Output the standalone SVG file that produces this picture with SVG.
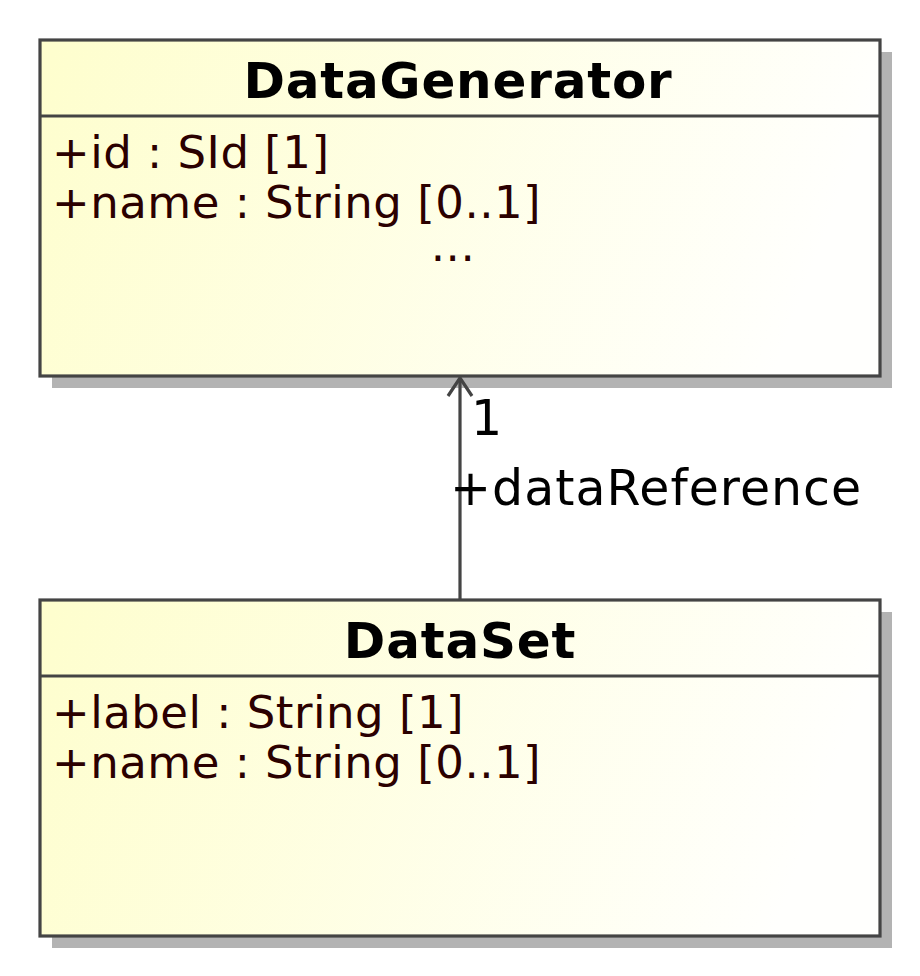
<svg xmlns="http://www.w3.org/2000/svg" width="920" height="976" viewBox="0 0 920 976">
<defs>
<linearGradient id="fill" x1="0" y1="0" x2="1" y2="0.15">
<stop offset="0" stop-color="#fefecd"/>
<stop offset="1" stop-color="#fffffd"/>
</linearGradient>
<style>
.shadow{fill:#b3b3b3}
.box{fill:url(#fill);stroke:#444444;stroke-width:3.2}
.div{stroke:#444444;stroke-width:3.2}
.title{font-family:"DejaVu Sans",sans-serif;font-weight:bold;font-size:50px;letter-spacing:0.8px;fill:#000000;text-anchor:middle}
.attr{font-family:"DejaVu Sans",sans-serif;font-size:45px;letter-spacing:0.5px;fill:#2b0000}
.lbl{font-family:"DejaVu Sans",sans-serif;font-size:49px;letter-spacing:1px;fill:#000000}
.edge{stroke:#444444;stroke-width:3.2;fill:none}
</style>
</defs>
<rect width="920" height="976" fill="#ffffff"/>
<g id="DataGenerator">
<rect class="shadow" x="52" y="52" width="840" height="336"/>
<rect class="box" x="40" y="40" width="840" height="336"/>
<line class="div" x1="40" y1="116" x2="880" y2="116"/>
<text class="title" x="458" y="98">DataGenerator</text>
<text class="attr" x="52" y="168">+id : SId [1]</text>
<text class="attr" x="52" y="218">+name : String [0..1]</text>
<text class="attr" x="453" y="261" text-anchor="middle" fill="#000000">...</text>
</g>
<g id="DataSet">
<rect class="shadow" x="52" y="612" width="840" height="336"/>
<rect class="box" x="40" y="600" width="840" height="336"/>
<line class="div" x1="40" y1="676" x2="880" y2="676"/>
<text class="title" x="460" y="658">DataSet</text>
<text class="attr" x="52" y="728">+label : String [1]</text>
<text class="attr" x="52" y="778">+name : String [0..1]</text>
</g>
<g id="connectors">
<line class="edge" x1="460" y1="600" x2="460" y2="378"/>
<polyline class="edge" points="448,396 460,378 472,396"/>
<text class="lbl" x="471" y="435">1</text>
<text class="lbl" x="450" y="505">+dataReference</text>
</g>
</svg>
